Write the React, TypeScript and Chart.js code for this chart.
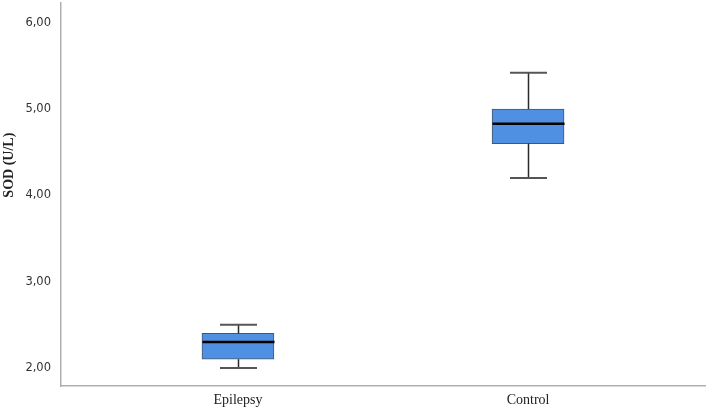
import React, { useEffect, useRef } from "react";
import { Chart, registerables } from "chart.js";

Chart.register(...registerables);

const categories = ["Epilepsy", "Control"];
const whiskerMin = [2.0, 4.2];
const q1 = [2.1, 4.6];
const median = [2.3, 4.83];
const q3 = [2.4, 5.0];
const whiskerMax = [2.5, 5.42];
const yTicks = [2, 3, 4, 5, 6];
const yTitle = "SOD (U/L)";

const BOX_W = 72;
const CAP_W = 37;

const boxPlugin = {
  id: "boxWhiskers",
  afterDatasetsDraw(chart: any) {
    const { ctx, scales } = chart;
    const xs = scales.x;
    const ys = scales.y;
    ctx.save();
    categories.forEach((_, i) => {
      const cx = Math.round(xs.getPixelForValue(i + 1)) + 0.5;
      const yMin = ys.getPixelForValue(whiskerMin[i]);
      const yQ1 = ys.getPixelForValue(q1[i]);
      const yMed = ys.getPixelForValue(median[i]);
      const yQ3 = ys.getPixelForValue(q3[i]);
      const yMax = ys.getPixelForValue(whiskerMax[i]);
      ctx.strokeStyle = "#2b2b2b";
      ctx.lineWidth = 1.5;
      ctx.beginPath();
      ctx.moveTo(cx, yQ3);
      ctx.lineTo(cx, yMax);
      ctx.moveTo(cx, yQ1);
      ctx.lineTo(cx, yMin);
      ctx.stroke();
      ctx.strokeStyle = "#555555";
      ctx.lineWidth = 2;
      ctx.beginPath();
      ctx.moveTo(cx - CAP_W / 2, yMax);
      ctx.lineTo(cx + CAP_W / 2, yMax);
      ctx.moveTo(cx - CAP_W / 2, yMin);
      ctx.lineTo(cx + CAP_W / 2, yMin);
      ctx.stroke();
      ctx.strokeStyle = "#000000";
      ctx.lineWidth = 2.5;
      ctx.beginPath();
      ctx.moveTo(cx - BOX_W / 2, yMed);
      ctx.lineTo(cx + BOX_W / 2, yMed);
      ctx.stroke();
    });
    ctx.restore();
  },
  afterDraw(chart: any) {
    const { ctx, scales } = chart;
    const ys = scales.y;
    ctx.save();
    ctx.translate(9, ys.getPixelForValue(4.35));
    ctx.rotate(-Math.PI / 2);
    ctx.font = "bold 14px 'Liberation Serif', serif";
    ctx.fillStyle = "#222222";
    ctx.textAlign = "center";
    ctx.textBaseline = "middle";
    ctx.fillText(yTitle, 0, 0);
    ctx.restore();
  },
};

export default function App() {
  const ref = useRef<HTMLCanvasElement>(null);
  useEffect(() => {
    document.body.style.margin = "0";
    const chart = new Chart(ref.current!, {
      type: "bar",
      data: {
        datasets: [
          {
            data: categories.map((_, i) => ({ x: i + 1, y: [q1[i], q3[i]] })) as any,
            backgroundColor: "#4f90e3",
            borderColor: "#4a5663",
            borderWidth: 1,
            borderSkipped: false,
            barThickness: BOX_W,
          },
        ],
      },
      options: {
        animation: false,
        responsive: false,
        plugins: { legend: { display: false }, tooltip: { enabled: false } },
        layout: { padding: { left: 0, top: 3, right: 3, bottom: 0 } },
        scales: {
          x: {
            type: "linear",
            offset: false,
            min: 0.39,
            max: 2.61,
            afterBuildTicks: (s: any) => {
              s.ticks = categories.map((_, i) => ({ value: i + 1 }));
            },
            afterFit: (s: any) => {
              s.height = 24;
              s.paddingLeft = 0;
              s.paddingRight = 0;
            },
            ticks: {
              callback: (v: any) => categories[Math.round(v) - 1] ?? "",
              font: { family: "'Liberation Serif', serif", size: 14 },
              color: "#222222",
              padding: 6,
              maxRotation: 0,
            },
            grid: { color: "transparent", drawTicks: false, offset: false },
            border: { display: true, color: "#b0b0b0", width: 1.5 },
          },
          y: {
            type: "linear",
            min: 1.79,
            max: 6.23,
            afterBuildTicks: (s: any) => {
              s.ticks = yTicks.map((v) => ({ value: v }));
            },
            afterFit: (s: any) => {
              s.width = 61;
              s.paddingTop = 0;
              s.paddingBottom = 0;
            },
            ticks: {
              callback: (v: any) => Number(v).toFixed(2).replace(".", ","),
              font: { family: "'DejaVu Sans', sans-serif", size: 11.5 },
              color: "#333333",
              padding: 10,
            },
            grid: { color: "transparent", drawTicks: false },
            border: { display: true, color: "#b0b0b0", width: 1.5 },
          },
        },
      },
      plugins: [boxPlugin],
    });
    return () => chart.destroy();
  }, []);
  return (
    <div style={{ width: 708, height: 410 }}>
      <canvas ref={ref} width={708} height={410} style={{ width: 708, height: 410 }} />
    </div>
  );
}
